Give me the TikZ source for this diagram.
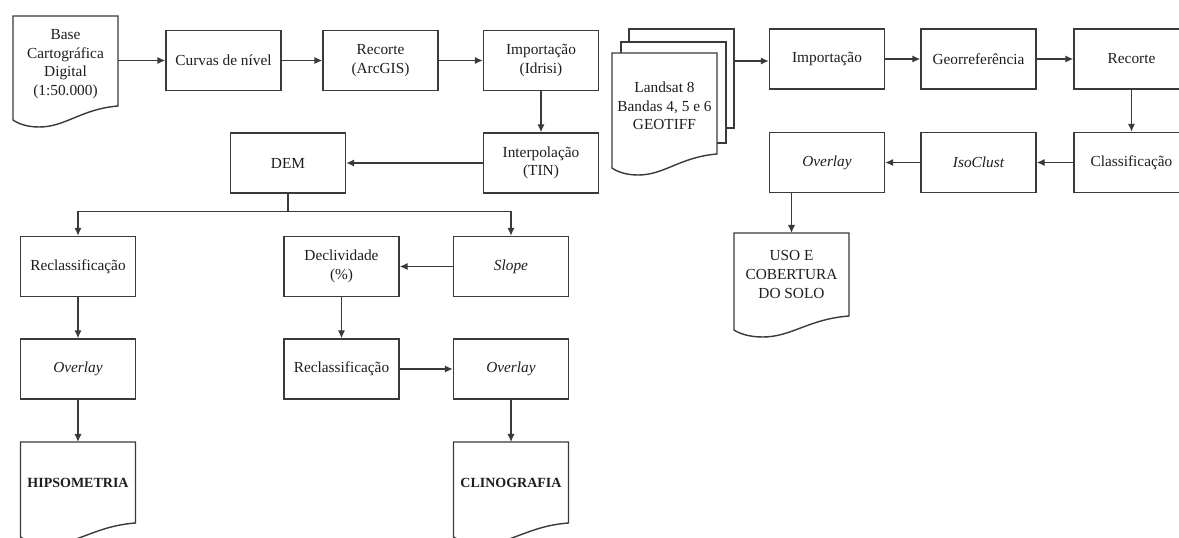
\documentclass[tikz,border=0pt]{standalone}
\usepackage{fontspec}
\setmainfont{Liberation Serif}
\usetikzlibrary{arrows.meta}
\definecolor{lncol}{HTML}{3A3A3A}
\definecolor{tx}{HTML}{1E1E1E}
\tikzset{
  ln/.style={draw=lncol, line width=1.05pt},
  txt/.style={align=center, text=tx, inner sep=1pt, font=\fontsize{11.5}{13.9}\selectfont},
  box/.style={ln, txt, fill=white, minimum width=86.25pt, minimum height=45pt, inner sep=2pt},
  page/.style={ln, fill=white, minimum width=78.75pt, inner sep=0pt},
  docn/.style={draw=none, inner sep=0pt, outer sep=0pt},
  arr/.style={ln, -{Latex[length=6pt,width=5.5pt]}},
  bigtxt/.style={txt, font=\bfseries\fontsize{10.5}{13}\selectfont}
}
\newcommand\docshape[6]{% name, center, width px, height px, text style, text
  \node[docn, minimum width={#3*0.75pt}, minimum height={#4*0.75pt}] (#1) at (#2) {};
  \draw[ln, fill=white] ([shift={(0,14)}]#1.south west) -- (#1.north west) -- (#1.north east) -- (#1.south east)
    .. controls ([shift={(-0.35*#3,3)}]#1.south east) and ([shift={(0.5*#3,21)}]#1.south west)
    .. ([shift={(0.25*#3,21)}]#1.south west)
    .. controls ([shift={(0.12*#3,21)}]#1.south west) and ([shift={(0.04*#3,17)}]#1.south west)
    .. ([shift={(0,14)}]#1.south west) -- cycle;
  \node[#5] (#1-t) at (#1.center) {#6};
}
\begin{document}
\begin{tikzpicture}[x=0.75pt, y=-0.75pt]
\clip (0,0) rectangle (1179,538);
\fill[white] (0,0) rectangle (1179,538);

% ---- left top row
\docshape{base}{65.5,61}{105}{90}{txt,yshift=-2.25pt}{Base\\Cartográfica\\Digital\\(1:50.000)}
\node[box] (curvas) at (223.5,60.5) {Curvas de nível};
\node[box] (rec1) at (380.5,60.5) {Recorte\\(ArcGIS)};
\node[box] (imp1) at (541,60.5) {Importação\\(Idrisi)};
\node[box] (interp) at (541,163) {Interpolação\\(TIN)};
\node[box] (dem) at (288,163) {DEM};

\draw[arr] (base.east |- curvas.west) -- (curvas.west);
\draw[arr] (curvas.east) -- (rec1.west);
\draw[arr] (rec1.east) -- (imp1.west);
\draw[arr] (imp1.south) -- (interp.north);
\draw[arr] (interp.west) -- (dem.east);

% ---- lower left
\node[box] (recl1) at (78,266.5) {Reclassificação};
\node[box] (ov1) at (78,369) {\itshape Overlay};
\docshape{hips}{78,482.5}{115}{81}{bigtxt}{HIPSOMETRIA}
\node[box] (decl) at (341.5,266.5) {Declividade\\(\%)};
\node[box] (slope) at (511,266.5) {\itshape Slope};
\node[box] (recl2) at (341.5,369) {Reclassificação};
\node[box] (ov3) at (511,369) {\itshape Overlay};
\docshape{clin}{511,482.5}{115}{81}{bigtxt}{CLINOGRAFIA}

\draw[arr] (dem.south) -- ++(0,18) -| (recl1.north);
\draw[arr] (dem.south) -- ++(0,18) -| (slope.north);
\draw[arr] (recl1.south) -- (ov1.north);
\draw[arr] (ov1.south) -- (hips.north);
\draw[arr] (slope.west) -- (decl.east);
\draw[arr] (decl.south) -- (recl2.north);
\draw[arr] (recl2.east) -- (ov3.west);
\draw[arr] (ov3.south) -- (clin.north);

% ---- Landsat stack
\node[page, minimum height=74.25pt] (ls3) at (681.5,78.5) {};
\node[page, minimum height=75.75pt] (ls2) at (673.5,92.5) {};
\docshape{ls}{664.5,103.5}{105}{101}{txt,yshift=-1.9pt}{Landsat 8\\Bandas 4, 5 e 6\\GEOTIFF}

% ---- right rows
\node[box] (imp2) at (827,59) {Importação};
\node[box] (geo) at (978.5,59) {Georreferência};
\node[box] (rec2) at (1131.5,59) {Recorte};
\node[box] (cls) at (1131.5,162.5) {Classificação};
\node[box] (iso) at (978.5,162.5) {\itshape IsoClust};
\node[box] (ov2) at (827,162.5) {\itshape Overlay};
\docshape{uso}{791.5,274.5}{115}{83}{txt}{USO E\\COBERTURA\\DO SOLO}

\draw[arr] (ls3.east |- 0,61) -- (imp2.west |- 0,61);
\draw[arr] (imp2.east) -- (geo.west);
\draw[arr] (geo.east) -- (rec2.west);
\draw[arr] (rec2.south) -- (cls.north);
\draw[arr] (cls.west) -- (iso.east);
\draw[arr] (iso.west) -- (ov2.east);
\draw[arr] (ov2.south -| uso.north) -- (uso.north);
\end{tikzpicture}
\end{document}
